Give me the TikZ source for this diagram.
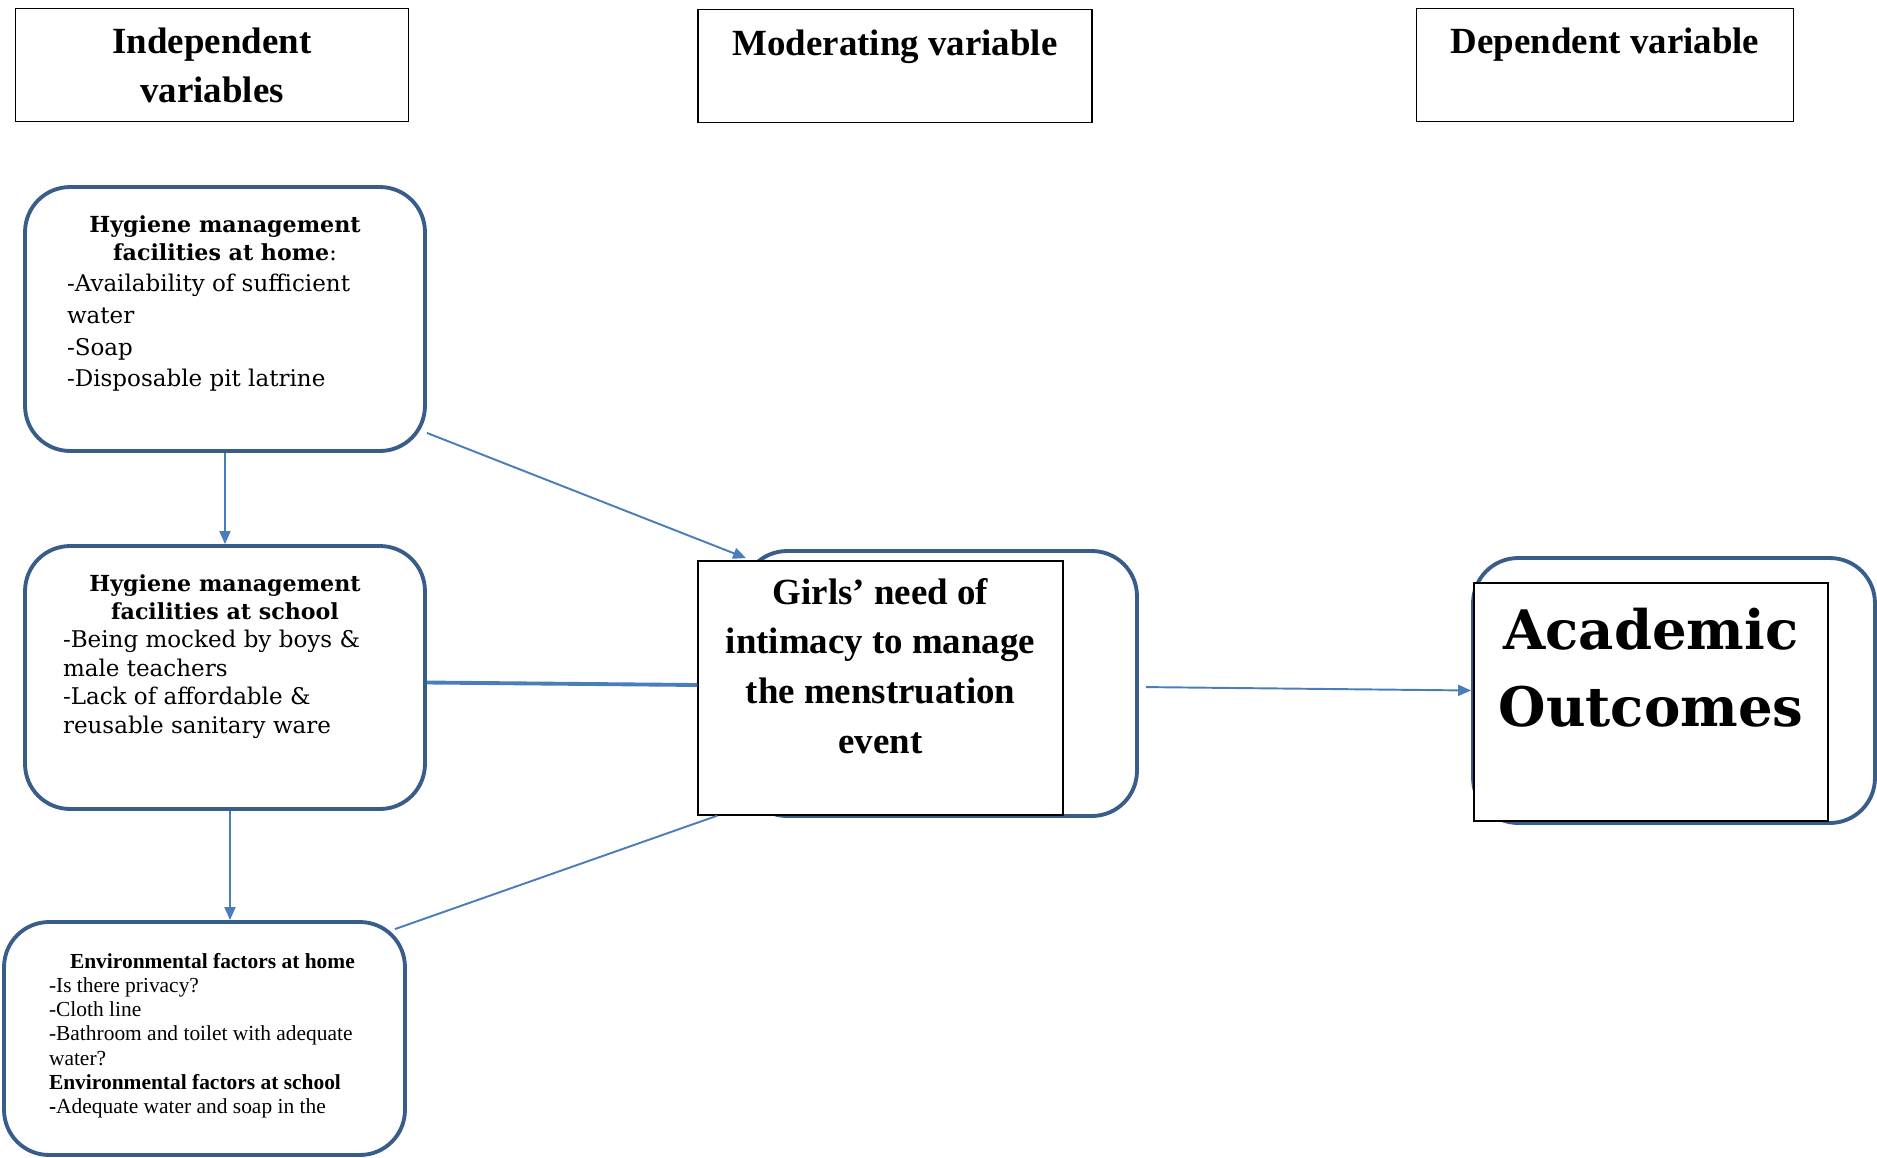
\documentclass[tikz,border=0pt]{standalone}
\usepackage{fontspec}
\setmainfont{Liberation Serif}
\newfontfamily\bookman{DejaVu Serif}
\usetikzlibrary{arrows.meta}
\definecolor{boxblue}{RGB}{56,93,138}
\definecolor{arrowblue}{RGB}{74,126,187}

% fixed size box, text at the top
\newcommand{\inbox}[3]{\parbox[c][#2][t]{#1}{#3}}

\begin{document}
\begin{tikzpicture}[x=0.02cm, y=-0.02cm,
        head/.style={rectangle, draw, line width=0.8pt, inner sep=0pt, fill=white},
        rbox/.style={rectangle, rounded corners=0.9cm, draw=boxblue, line width=2.2pt, inner sep=0pt, fill=white},
        frame/.style={rectangle, draw, line width=0.8pt, inner sep=0pt, fill=white},
        arrow/.style={-{Triangle[length=0.26cm, width=0.22cm]}, draw=arrowblue, line width=1.1pt},
        link/.style={draw=arrowblue, line width=1.1pt}
    ]
    \useasboundingbox (0,0) rectangle (1877,1157);

    % column headings
    \node[head] (indep) at (212,65) {\inbox{7.86cm}{2.26cm}{\vspace*{0.38cm}\centering\fontsize{21}{28}\selectfont\bfseries Independent\\variables}};
    \node[head] (moder) at (895,66) {\inbox{7.88cm}{2.26cm}{\vspace*{0.41cm}\centering\fontsize{21}{28}\selectfont\bfseries Moderating variable}};
    \node[head] (depend) at (1605,65) {\inbox{7.54cm}{2.26cm}{\vspace*{0.38cm}\centering\fontsize{21}{28}\selectfont\bfseries Dependent variable}};

    % independent variables
    \node[rbox] (home) at (225,319) {\inbox{8cm}{5.28cm}{\vspace*{0.58cm}\bookman
        {\centering\fontsize{12.6}{15.6}\selectfont\bfseries Hygiene management\\facilities at home\mdseries:\par}
        {\fontsize{13.1}{18}\selectfont\leftskip=0.84cm -Availability of sufficient\\water\\-Soap\\-Disposable pit latrine\par}}};
    \node[rbox] (school) at (225,677.5) {\inbox{8cm}{5.26cm}{\vspace*{0.58cm}\bookman
        {\centering\fontsize{12.6}{15.7}\selectfont\bfseries Hygiene management\\facilities at school\par}
        {\fontsize{13.1}{16.2}\selectfont\leftskip=0.76cm -Being mocked by boys \&\\male teachers\\-Lack of affordable \&\\reusable sanitary ware\par}}};
    \node[rbox] (envir) at (204.5,1038.5) {\inbox{8.02cm}{4.66cm}{\vspace*{0.62cm}
        {\fontsize{12.2}{13.8}\selectfont\leftskip=0.9cm \hspace*{0.42cm}\textbf{Environmental factors at home}\\-Is there privacy?\\-Cloth line\\-Bathroom and toilet with adequate\\water?\\\textbf{Environmental factors at school}\\\textbf{-}Adequate water and soap in the\par}}};

    % moderating variable
    \node[rbox, minimum width=7.9cm, minimum height=5.3cm] (needbox) at (939.5,683.5) {};
    \node[frame] (need) at (880.5,688) {\inbox{7.3cm}{5.08cm}{\vspace*{0.34cm}\centering\fontsize{21}{28.4}\selectfont\bfseries Girls’ need of\\intimacy to manage\\the menstruation\\event}};

    % dependent variable
    \node[rbox, minimum width=8.04cm, minimum height=5.3cm] (outbox) at (1674,690.5) {};
    \node[frame] (outcome) at (1651,702) {\inbox{7.08cm}{4.76cm}{\vspace*{0.5cm}\centering\bookman\bfseries\fontsize{31}{44}\selectfont Academic\\Outcomes}};

    \draw[arrow] (home) -- (school);
    \draw[arrow] ([xshift=0.1cm]school.south) -- ([xshift=0.1cm]school.south |- envir.north);
    \draw[arrow] ([yshift=0.4cm]home.south east) -- ([xshift=0.12cm,yshift=-0.18cm]needbox.north west);
    \draw[link, line width=2.2pt] ([yshift=-0.1cm]school.east) -- ([yshift=0.06cm]need.west);
    \draw[link] ([xshift=-0.24cm,yshift=-0.18cm]envir.north east) -- ([xshift=0.4cm]need.south west);
    \draw[arrow, shorten <=0.14cm] ([yshift=-0.07cm]needbox.east) -- (outbox.west);
\end{tikzpicture}
\end{document}
